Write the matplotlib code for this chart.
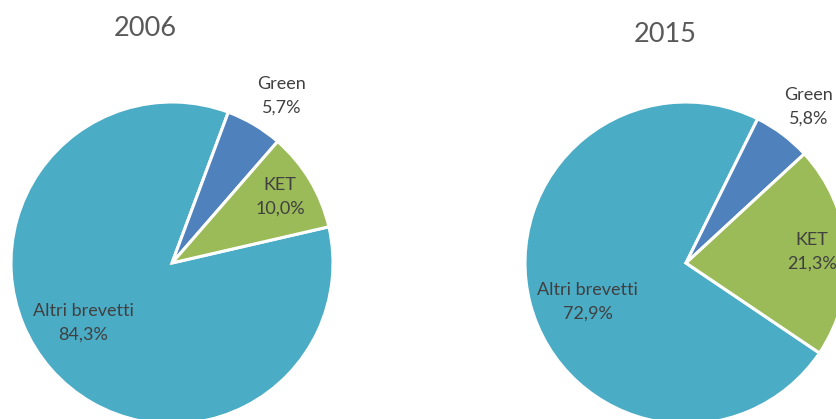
import matplotlib
matplotlib.use("Agg")
import matplotlib.pyplot as plt

plt.rcParams["font.family"] = ["Lato", "DejaVu Sans"]

W, H = 836, 419

categories = ["Altri brevetti", "Green", "KET"]
shares_2006 = [84.3, 5.7, 10.0]
shares_2015 = [72.9, 5.8, 21.3]
colors = ["#4BACC6", "#4F81BD", "#9BBB59"]
text_color = "#404040"

# (year, values, centre px, start angle, label positions in radius units, title px)
pies = [
    ("2006", shares_2006, (172, 263), 13,
     [(-0.55, -0.37), (0.68, 1.04), (0.67, 0.41)], (145, 28)),
    ("2015", shares_2015, (686, 263), -34,
     [(-0.61, -0.24), (0.76, 0.97), (0.78, 0.07)], (665, 34)),
]
R = 161

fig = plt.figure(figsize=(W / 100, H / 100), dpi=100)

for year, vals, (cx, cy), start, lab_pos, (tx, ty) in pies:
    ax = fig.add_axes([(cx - R) / W, (H - cy - R) / H, 2 * R / W, 2 * R / H])
    ax.pie(vals, colors=colors, startangle=start, counterclock=False,
           wedgeprops={"edgecolor": "white", "linewidth": 2.2})
    ax.set_xlim(-1, 1)
    ax.set_ylim(-1, 1)
    ax.set_aspect("equal")
    ax.axis("off")
    for name, v, (lx, ly) in zip(categories, vals, lab_pos):
        ax.text(lx, ly, f"{name}\n{v:.1f}%".replace(".", ","),
                ha="center", va="center", fontsize=13, color=text_color,
                linespacing=1.55)
    fig.text(tx / W, 1 - ty / H, year, ha="center", va="center",
             fontsize=19.5, color="#595959")

fig.savefig("out.png", dpi=100)
